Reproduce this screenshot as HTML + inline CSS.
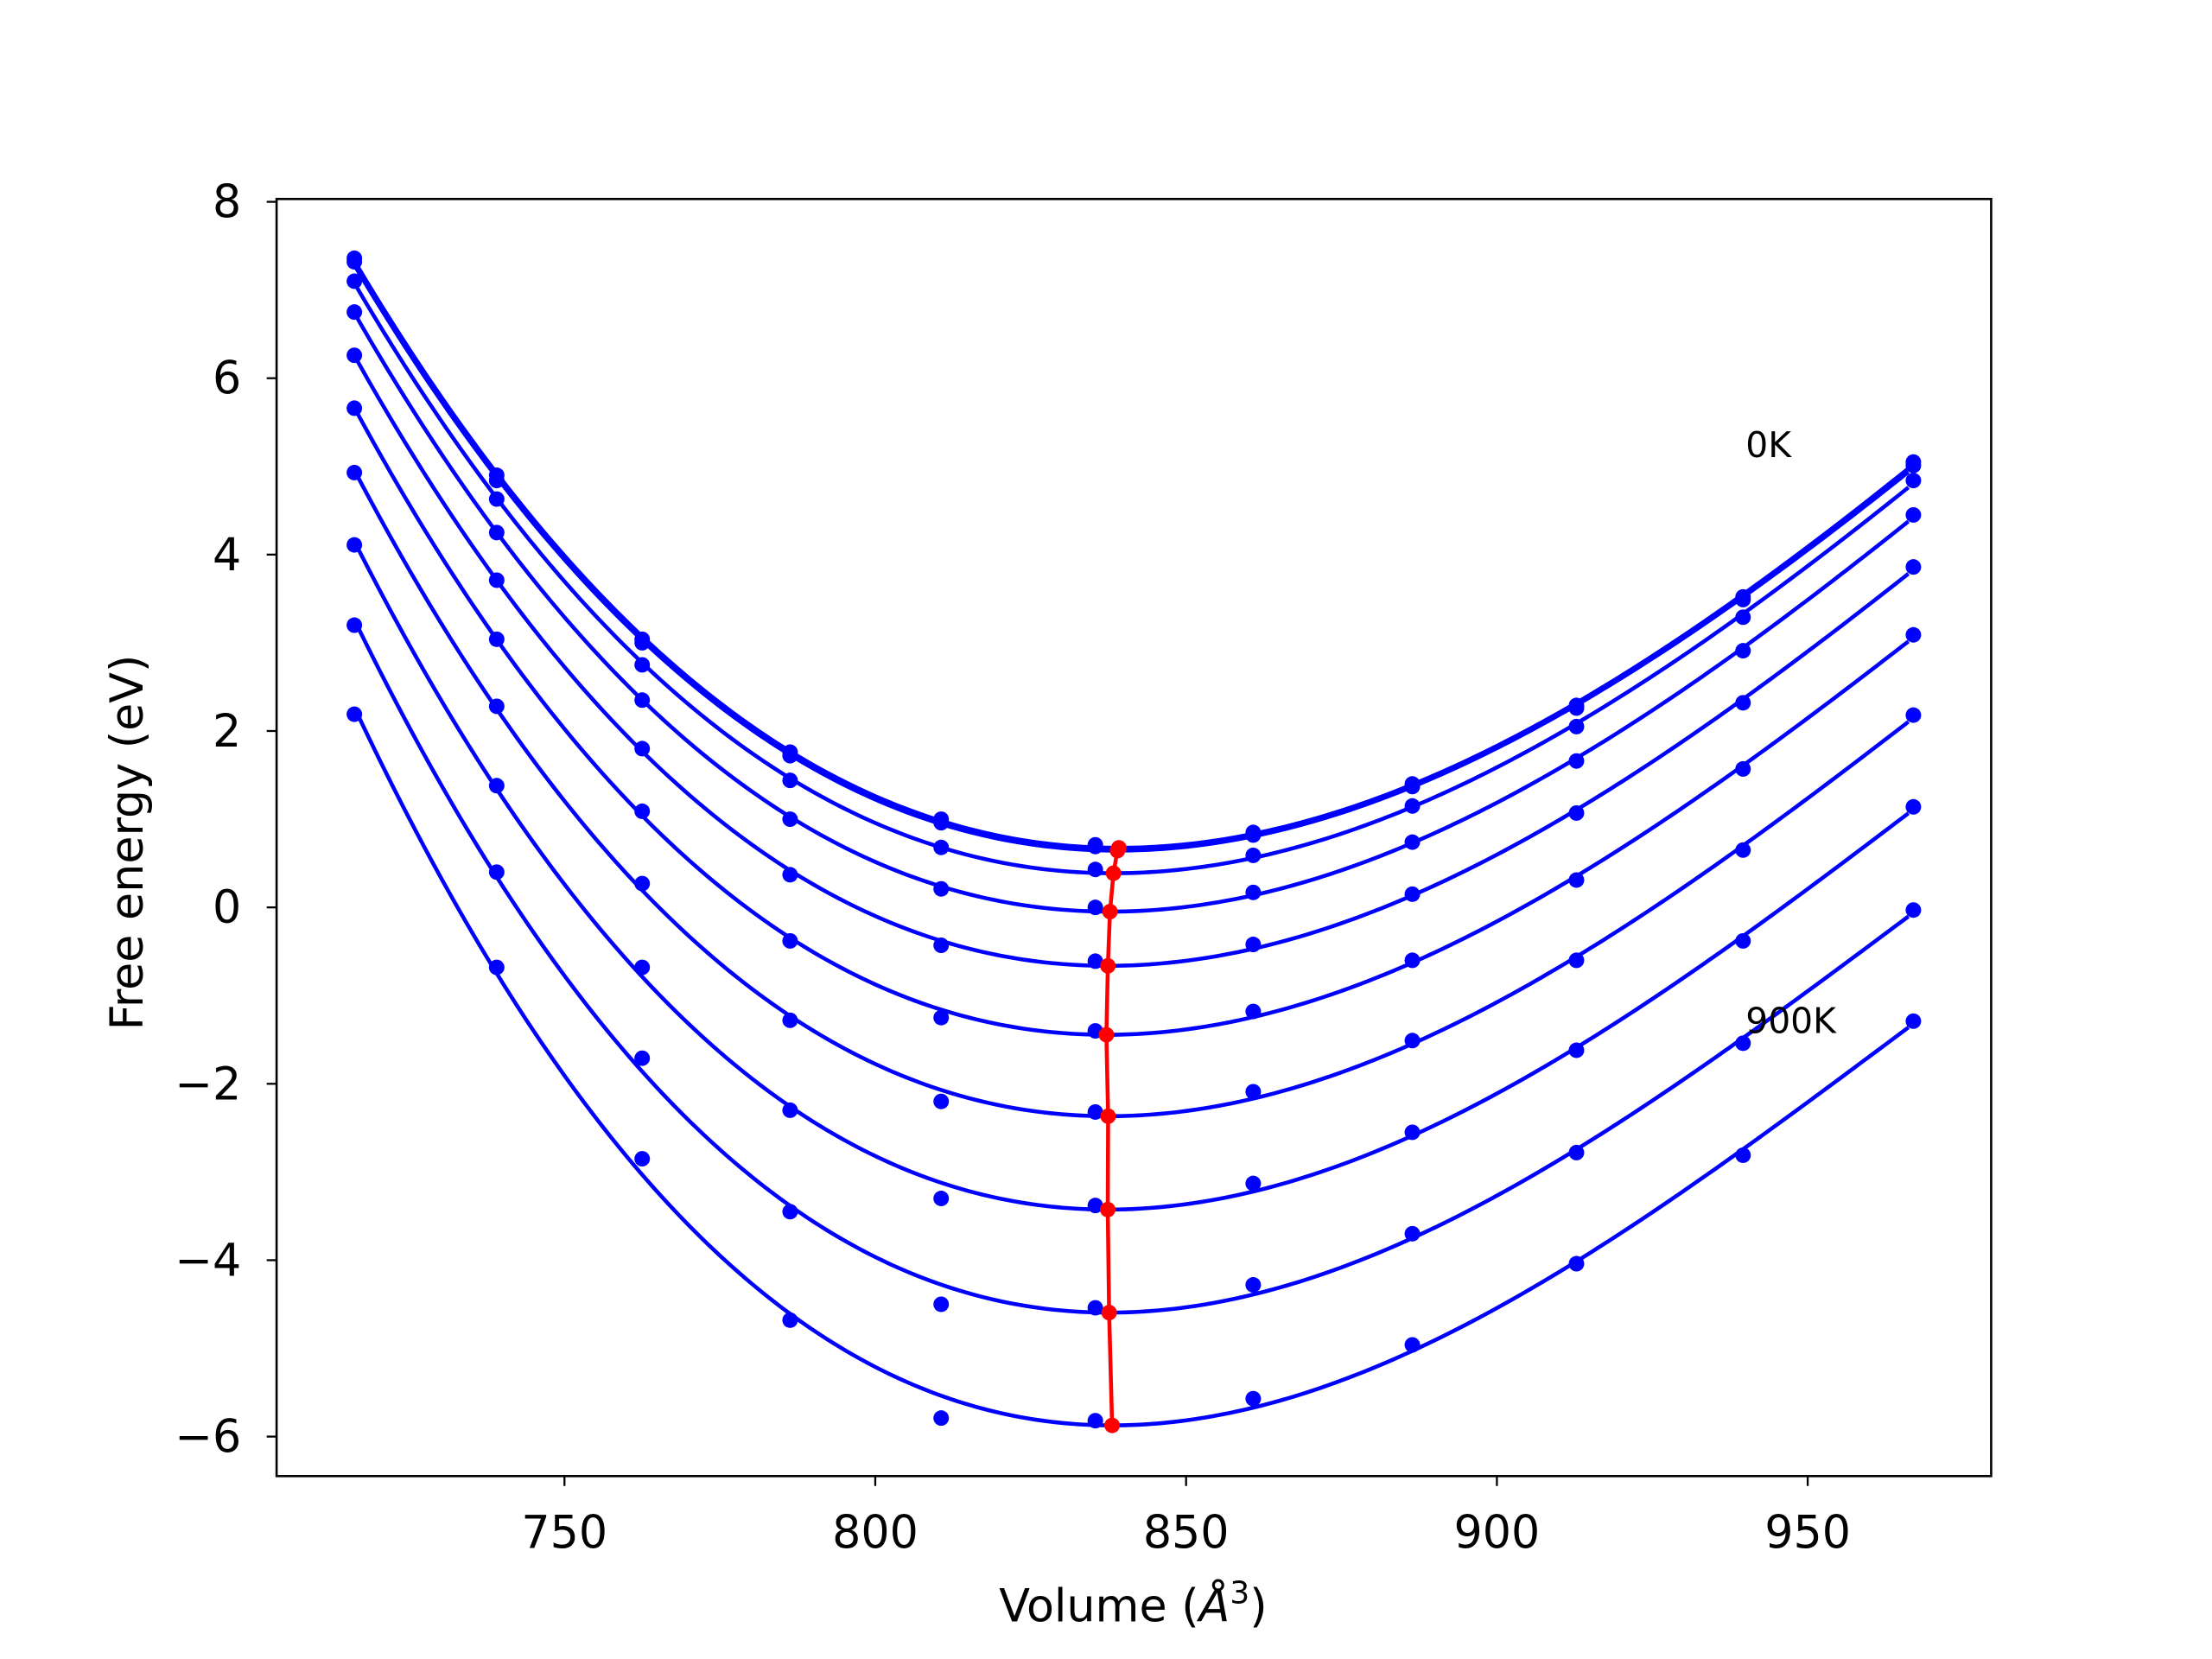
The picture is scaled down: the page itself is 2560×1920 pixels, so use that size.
<!DOCTYPE html>
<html><head><meta charset="utf-8"><style>
html,body{margin:0;padding:0;background:#fff;}
svg{display:block;font-family:"DejaVu Sans","Liberation Sans",sans-serif;}
</style></head><body>
<svg id="chart" width="2560" height="1920" viewBox="0 0 1567.5 1175.6" xmlns="http://www.w3.org/2000/svg">
<rect x="0" y="0" width="1567.5" height="1175.6" fill="#fff"/>
<g id="series"></g>
<g id="axes"></g>
<rect x="196" y="141" width="1215" height="905" fill="none" stroke="#000" stroke-width="1.6"/>
<text x="803" y="1149" font-size="32" text-anchor="middle">Volume (<tspan font-style="italic">Å</tspan><tspan font-size="22" dy="-13">3</tspan><tspan dy="13">)</tspan></text>
<text x="0" y="0" font-size="32" text-anchor="middle" transform="translate(101,597) rotate(-90)">Free energy (eV)</text>
<text x="1237" y="324" font-size="25">0K</text>
<text x="1237" y="732" font-size="25">900K</text>
</svg>
<script>
const volumes=[716.2,739.1,762.5,786.3,810.6,835.4,860.8,886.4,912.8,939.6,967.0];
const temps=[0,100,200,300,400,500,600,700,800,900];
const energies=[
[7.36,4.90,3.04,1.76,1.00,0.71,0.85,1.40,2.29,3.52,5.05],
[7.32,4.84,3.00,1.72,0.96,0.69,0.82,1.37,2.26,3.49,5.01],
[7.10,4.63,2.75,1.44,0.68,0.43,0.59,1.15,2.05,3.29,4.84],
[6.75,4.25,2.35,1.00,0.21,0.00,0.17,0.74,1.66,2.91,4.45],
[6.26,3.71,1.80,0.37,-0.43,-0.61,-0.42,0.15,1.07,2.32,3.86],
[5.66,3.04,1.09,-0.38,-1.25,-1.40,-1.18,-0.60,0.31,1.57,3.09],
[4.93,2.28,0.27,-1.28,-2.20,-2.32,-2.09,-1.51,-0.60,0.65,2.18],
[4.11,1.38,-0.68,-2.30,-3.30,-3.38,-3.13,-2.55,-1.62,-0.38,1.14],
[3.20,0.40,-1.71,-3.45,-4.50,-4.54,-4.28,-3.70,-2.78,-1.54,-0.03],
[2.19,-0.68,-2.85,-4.68,-5.79,-5.82,-5.57,-4.96,-4.04,-2.81,-1.29]];
const xTicks=[750,800,850,900,950];
const yTicks=[-6,-4,-2,0,2,4,6,8];
const NS="http://www.w3.org/2000/svg";
const X=v=>400+(v-750)*4.405;
const Y=e=>643-62.5*e;
const sg=document.getElementById('series'),ag=document.getElementById('axes');
function mk(tag,attrs,parent){const el=document.createElementNS(NS,tag);for(const k in attrs)el.setAttribute(k,attrs[k]);parent.appendChild(el);return el;}
function fit(xs,ys){const n=4,A=[],b=[];for(let i=0;i<n;i++){A.push(new Array(n).fill(0));b.push(0);}
 xs.forEach((x,k)=>{const t=(x-840)/100;const p=[1,t,t*t,t*t*t];for(let i=0;i<n;i++){b[i]+=p[i]*ys[k];for(let j=0;j<n;j++)A[i][j]+=p[i]*p[j];}});
 for(let i=0;i<n;i++){let m=i;for(let r=i+1;r<n;r++)if(Math.abs(A[r][i])>Math.abs(A[m][i]))m=r;[A[i],A[m]]=[A[m],A[i]];[b[i],b[m]]=[b[m],b[i]];
 for(let r=i+1;r<n;r++){const f=A[r][i]/A[i][i];for(let j=i;j<n;j++)A[r][j]-=f*A[i][j];b[r]-=f*b[i];}}
 const c=new Array(n).fill(0);for(let i=n-1;i>=0;i--){let s=b[i];for(let j=i+1;j<n;j++)s-=A[i][j]*c[j];c[i]=s/A[i][i];}
 return v=>{const t=(v-840)/100;return c[0]+c[1]*t+c[2]*t*t+c[3]*t*t*t;};}
const minV=[],minE=[];
energies.forEach((row,ci)=>{
 const f=fit(volumes,row);let d="";let bv=volumes[0],be=1e9;
 for(let v=volumes[0];v<=volumes[volumes.length-1]+0.01;v+=1){const e=f(v);d+=(d?"L":"M")+X(v).toFixed(2)+","+Y(e).toFixed(2);if(e<be){be=e;bv=v;}}
 for(let v=bv-1;v<=bv+1;v+=0.02){const e=f(v);if(e<be){be=e;bv=v;}}
 minV.push(bv);minE.push(be);
 const p=mk('path',{d:d,fill:'none',stroke:'#0000ff','stroke-width':2.8},sg);
 
 
 row.forEach((e,k)=>{const c=mk('circle',{cx:X(volumes[k]),cy:Y(e),r:5.5,fill:'#0000ff'},sg);
 
 });
});
let md="";minV.forEach((v,i)=>{md+=(i?"L":"M")+X(v)+","+Y(minE[i]);});
const ml=mk('path',{d:md,fill:'none',stroke:'#ff0000','stroke-width':2.8},sg);


minV.forEach((v,i)=>{const c=mk('circle',{cx:X(v),cy:Y(minE[i]),r:5.5,fill:'#ff0000'},sg);
 
 });
xTicks.forEach(t=>{const l=mk('line',{x1:X(t),x2:X(t),y1:1046,y2:1053,stroke:'#000','stroke-width':1.4},ag);
 
 
 const tx=mk('text',{x:X(t),y:1097,'font-size':32,'text-anchor':'middle'},ag);tx.textContent=t;
 
 });
yTicks.forEach(t=>{const l=mk('line',{x1:189,x2:196,y1:Y(t),y2:Y(t),stroke:'#000','stroke-width':1.4},ag);
 
 
 const tx=mk('text',{x:171,y:Y(t)+11,'font-size':32,'text-anchor':'end'},ag);tx.textContent=(t<0?'\u2212'+(-t):''+t);
 
 });
</script>
</body></html>
